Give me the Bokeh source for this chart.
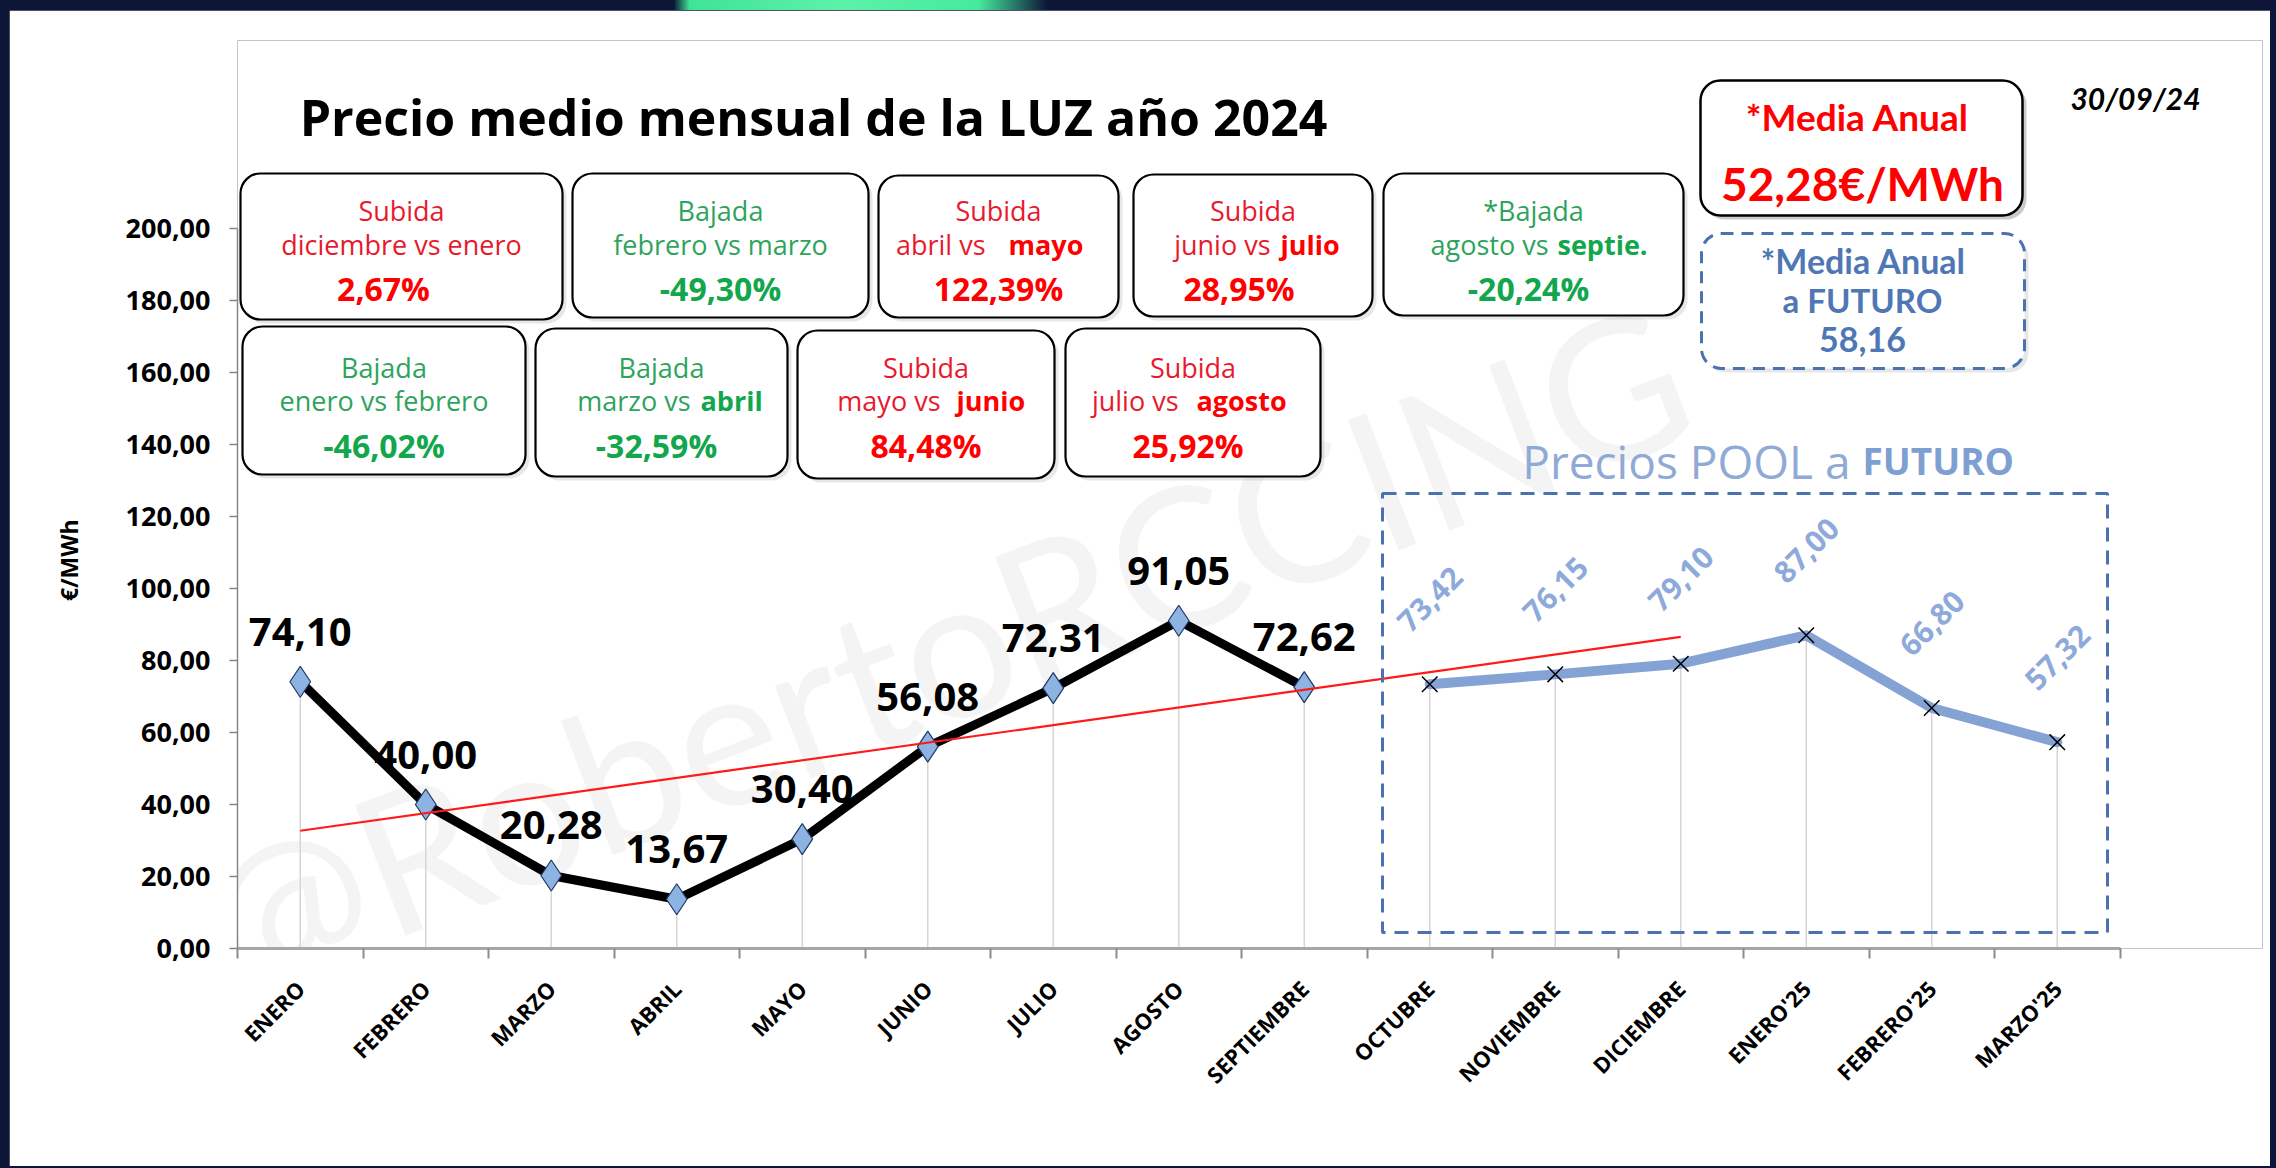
import math
import numpy as np
from bokeh.plotting import figure
from bokeh.models import (Range1d, FixedTicker, BoxAnnotation, Label,
                          CustomJSTickFormatter)
from bokeh.core.properties import value
from bokeh.embed import file_html
from bokeh.resources import INLINE

# ---------------- data ----------------
months = ["ENERO", "FEBRERO", "MARZO", "ABRIL", "MAYO", "JUNIO", "JULIO",
          "AGOSTO", "SEPTIEMBRE", "OCTUBRE", "NOVIEMBRE", "DICIEMBRE",
          "ENERO'25", "FEBRERO'25", "MARZO'25"]
actual_prices = [74.10, 40.00, 20.28, 13.67, 30.40, 56.08, 72.31, 91.05, 72.62]
future_prices = [73.42, 76.15, 79.10, 87.00, 66.80, 57.32]
y_tick_values = [0, 20, 40, 60, 80, 100, 120, 140, 160, 180, 200]
trend_last_month = "DICIEMBRE"

title_text = "Precio medio mensual de la LUZ año 2024"
date_text = "30/09/24"
future_mean_text = "58,16"
y_axis_title = "€/MWh"

change_kind = ["Subida", "Bajada", "Subida", "Subida", "*Bajada",
               "Bajada", "Bajada", "Subida", "Subida"]
change_text = ["diciembre vs enero", "febrero vs marzo", "abril vs", "junio vs",
               "agosto vs", "enero vs febrero", "marzo vs", "mayo vs", "julio vs"]
change_bold = ["", "", "mayo", "julio", "septie.", "", "abril", "junio", "agosto"]
change_pct = ["2,67%", "-49,30%", "122,39%", "28,95%", "-20,24%",
              "-46,02%", "-32,59%", "84,48%", "25,92%"]

# ---------------- layout helpers (reference pixels -> data units) ----------------
PAGE_X, PAGE_Y = 9, 10           # where the white panel starts on the page
AX_X0, CAT_W = 237.0, 125.5      # screen x of axis start, width of one month
AX_Y0, UNIT_H = 948.0, 3.6       # screen y of 0,00 and pixels per €/MWh
FIG_W, FIG_H = 2261, 1156
B_LEFT = int(AX_X0) - PAGE_X
B_BOTTOM = PAGE_Y + FIG_H - int(AX_Y0)
B_TOP = 30
B_RIGHT = 8


def X(px):
    return (px - AX_X0) / CAT_W


def Y(py):
    return (AX_Y0 - py) / UNIT_H


frame_w = FIG_W - B_LEFT - B_RIGHT
frame_h = FIG_H - B_TOP - B_BOTTOM

p = figure(width=FIG_W, height=FIG_H, title=None,
           x_range=Range1d(0, frame_w / CAT_W), y_range=Range1d(0, frame_h / UNIT_H),
           output_backend="svg", toolbar_location=None,
           min_border_left=B_LEFT, min_border_right=B_RIGHT,
           min_border_top=B_TOP, min_border_bottom=B_BOTTOM)
p.background_fill_color = "white"
p.border_fill_color = "white"
p.outline_line_color = None
p.xgrid.visible = False
p.ygrid.visible = False

n_act = len(actual_prices)
x_all = np.arange(len(months)) + 0.5
x_act = x_all[:n_act]
x_fut = x_all[n_act:]
all_prices = actual_prices + future_prices

# ---------------- axes ----------------
xa = p.xaxis[0]
xa.ticker = FixedTicker(ticks=list(x_all), minor_ticks=list(range(len(months) + 1)))
xa.formatter = CustomJSTickFormatter(args=dict(labels=months),
                                     code="return labels[Math.floor(tick)] || '';")
xa.bounds = (0, len(months))
xa.axis_line_color = "#a6a6a6"
xa.axis_line_width = 3
xa.major_tick_line_color = None
xa.major_tick_out = 0
xa.major_tick_in = 0
xa.minor_tick_out = 10
xa.minor_tick_in = 0
xa.minor_tick_line_color = "#8c8c8c"
xa.minor_tick_line_width = 2
xa.major_label_orientation = math.pi / 4
xa.major_label_standoff = 26
xa.major_label_text_font = "Open Sans"
xa.major_label_text_font_style = "bold"
xa.major_label_text_font_size = "22px"
xa.major_label_text_color = "black"

ya = p.yaxis[0]
ya.ticker = FixedTicker(ticks=y_tick_values, minor_ticks=[])
ya.formatter = CustomJSTickFormatter(code="return tick.toFixed(2).replace('.', ',');")
ya.bounds = (y_tick_values[0], y_tick_values[-1])
ya.axis_line_color = "#868686"
ya.axis_line_width = 1.5
ya.major_tick_line_color = "#868686"
ya.major_tick_line_width = 1.5
ya.major_tick_out = 8
ya.major_tick_in = 0
ya.minor_tick_line_color = None
ya.major_label_standoff = 19
ya.major_label_text_font = "Open Sans"
ya.major_label_text_font_style = "bold"
ya.major_label_text_font_size = "27px"
ya.major_label_text_color = "black"
# the axis title sits lower than the frame centre: pad its (upper) end with no-break spaces
ya.axis_label = y_axis_title + "\u00a0" * 22
ya.axis_label_text_font = "Open Sans"
ya.axis_label_text_font_style = "bold"
ya.axis_label_text_font_size = "23px"
ya.axis_label_text_color = "black"
ya.axis_label_standoff = 38

# ---------------- watermark ----------------
p.text(x=[X(943)], y=[Y(646)], text=["@RobertoRCCING"], angle=0.37,
       text_font=value("Lato"), text_font_size="195px", text_color="#e9e9e9",
       text_alpha=0.5, text_align="center", text_baseline="middle")

# ---------------- data glyphs ----------------
p.segment(x0=x_all, y0=[0] * len(x_all), x1=x_all, y1=all_prices,
          line_color="#d6d6d6", line_width=1.5)
p.line(x_fut, future_prices, line_color="#84a3d4", line_width=10,
       line_join="round", line_cap="round")
p.line(x_act, actual_prices, line_color="black", line_width=9,
       line_join="round", line_cap="round")
p.scatter(x_act, actual_prices, marker="diamond", size=31,
          fill_color="#8db3e2", line_color="#1f3864", line_width=1.2)
p.scatter(x_fut, future_prices, marker="x", size=22,
          line_color="black", line_width=1.5)

coef = np.polyfit(np.arange(n_act), actual_prices, 1)
i_end = months.index(trend_last_month)
p.line([x_all[0], x_all[i_end]], list(np.polyval(coef, [0, i_end])),
       line_color="#ff1a1a", line_width=2.2)


def fmt(v):
    return f"{v:.2f}".replace(".", ",")


p.text(x=x_act, y=actual_prices, text=[fmt(v) for v in actual_prices],
       y_offset=-50, text_font=value("Open Sans"), text_font_style="bold",
       text_font_size="40px", text_color="black",
       text_align="center", text_baseline="middle")
p.text(x=x_fut, y=future_prices, text=[fmt(v) for v in future_prices],
       y_offset=-85, angle=math.pi / 4, text_font=value("Open Sans"),
       text_font_style="bold", text_font_size="30px", text_color="#8eaadb",
       text_align="center", text_baseline="middle")

# ---------------- annotations ----------------
RAD = 20
ANCHOR = {"center": "center", "left": "center_left", "right": "center_right"}


def add_box(l, r, t, b, line_color="black", dash="solid", shadow_alpha=0.35, lw=2.2):
    p.add_layout(BoxAnnotation(left=X(l + 4), right=X(r + 4), top=Y(t + 4), bottom=Y(b + 4),
                               fill_color="#a0a0a0", fill_alpha=shadow_alpha,
                               line_color=None, border_radius=RAD))
    p.add_layout(BoxAnnotation(left=X(l), right=X(r), top=Y(t), bottom=Y(b),
                               fill_color="white", fill_alpha=1.0,
                               line_color=line_color, line_alpha=1.0, line_width=lw,
                               line_dash=dash, border_radius=RAD))


def add_label(px, py, text, size, color, style="normal", font="Open Sans",
              align="center"):
    p.add_layout(Label(x=X(px), y=Y(py), text=text, text_font=font,
                       text_font_size=f"{size}px", text_font_style=style,
                       text_color=color, text_align=align, text_baseline="middle",
                       anchor=ANCHOR[align]))


# future area rectangle
p.add_layout(BoxAnnotation(left=X(1382), right=X(2107), top=Y(493), bottom=Y(932),
                           fill_alpha=0, line_color="#4a72b0", line_alpha=1.0,
                           line_width=3, line_dash="14 9"))

box_px = [(240, 562, 173, 319), (572, 868, 173, 317), (878, 1118, 175, 317),
          (1133, 1372, 174, 316), (1383, 1683, 173, 315),
          (242, 525, 326, 474), (535, 787, 328, 476), (797, 1054, 330, 478),
          (1065, 1320, 328, 476)]
box_row = [0, 0, 0, 0, 0, 1, 1, 1, 1]
row_lines = [(210, 244, 288), (367, 400, 445)]
split_px = [None, None, (985, 1008), (1270, 1280), (1548, 1557),
            None, (690, 700), (940, 956), (1178, 1196)]
pct_dx = [-18, 0, 0, -14, -5, 0, -5, 0, -5]

RED_TXT, RED_BOLD = "#e8192c", "#ff0000"
GREEN_TXT, GREEN_BOLD = "#2ea35c", "#12a64d"

for i in range(len(change_kind)):
    l, r, t, b = box_px[i]
    add_box(l, r, t, b, shadow_alpha=0.25)
    up = "Subida" in change_kind[i]
    c_txt = RED_TXT if up else GREEN_TXT
    c_bold = RED_BOLD if up else GREEN_BOLD
    y1, y2, y3 = row_lines[box_row[i]]
    cx = (l + r) / 2
    add_label(cx, y1, change_kind[i], 27, c_txt)
    if split_px[i] is None:
        add_label(cx, y2, change_text[i], 27, c_txt)
    else:
        sa, sb = split_px[i]
        add_label(sa, y2, change_text[i], 27, c_txt, align="right")
        add_label(sb, y2, change_bold[i], 27, c_bold, style="bold", align="left")
    add_label(cx + pct_dx[i], y3, change_pct[i], 32, c_bold, style="bold")

# title and date
add_label(813, 116, title_text, 50, "black", style="bold")
add_label(2135, 97, date_text, 30, "black", style="bold italic", font="Lato")

# annual mean box
annual_mean = float(np.mean(actual_prices))
add_box(1700, 2022, 80, 215, shadow_alpha=0.55, lw=2.5)
add_label(1857, 116, "*Media Anual", 37, "#ff0000", style="bold", font="Lato")
add_label(1862, 183, fmt(annual_mean) + "€/MWh", 46, "#ff0000", style="bold", font="Lato")

# future mean box
add_box(1701, 2024, 233, 368, line_color="#4a72b0", dash="12 8", shadow_alpha=0.25, lw=3)
add_label(1863, 260, "*Media Anual", 34, "#4f77b5", style="bold", font="Lato")
add_label(1862, 299, "a FUTURO", 33, "#4f77b5", style="bold", font="Lato")
add_label(1862, 339, future_mean_text, 34, "#4f77b5", style="bold", font="Lato")

# "Precios POOL a FUTURO"
add_label(1850, 460, "Precios POOL a", 46, "#8faad6", align="right")
add_label(1862, 460, "FUTURO", 37, "#7f9fd2", style="bold", align="left")

html = file_html(p, INLINE)
css = ("<style>html{background:linear-gradient(90deg,#0d1637 0%,#0d1637 29.6%,"
       "#3fe397 30.3%,#5cf2a8 37%,#46ea9c 43%,#0d1637 46%,#0d1637 100%) 0 0/100% 10px no-repeat,#0d1637 !important;}"
       "body{background:transparent !important;margin:0 !important;"
       f"padding:{PAGE_Y}px 0 0 {PAGE_X}px !important;box-sizing:border-box;overflow:hidden;}}</style></head>")
html = html.replace("</head>", css, 1)
with open("out.html", "w") as f:
    f.write(html)
